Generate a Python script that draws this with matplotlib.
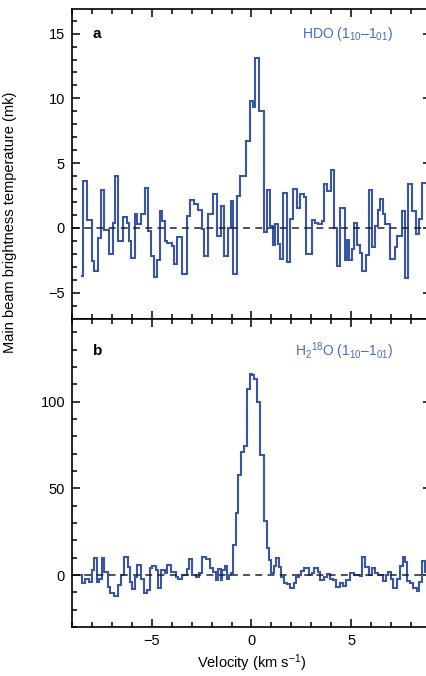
import numpy as np
import matplotlib
matplotlib.use("Agg")
from matplotlib import pyplot as plt
from matplotlib.ticker import MultipleLocator

plt.rcParams['font.family'] = ['Liberation Sans', 'DejaVu Sans']
plt.rcParams['mathtext.fontset'] = 'custom'
plt.rcParams['mathtext.rm'] = 'Liberation Sans'
plt.rcParams['mathtext.default'] = 'regular'

# panel a: HDO (1_10-1_01), channel edges (km/s) and Tmb (mK)
hdo_edges = [-8.55, -8.433, -8.25, -8.017, -7.883, -7.683, -7.55, -7.383, -7.133, -6.967,
             -6.833, -6.683, -6.433, -6.267, -6.133, -6.017, -5.85, -5.717, -5.55, -5.35,
             -5.183, -5.05, -4.883, -4.717, -4.6, -4.467, -4.35, -4.217, -4.0, -3.883,
             -3.717, -3.467, -3.217, -3.083, -2.883, -2.683, -2.467, -2.383, -2.183, -1.917,
             -1.75, -1.55, -1.383, -1.183, -1.05, -0.917, -0.75, -0.583, -0.3, -0.083,
             0.083, 0.2, 0.367, 0.65, 0.783, 0.95, 1.067, 1.2, 1.333, 1.45,
             1.583, 1.783, 1.917, 2.067, 2.283, 2.45, 2.617, 2.75, 3.033, 3.2,
             3.317, 3.533, 3.617, 3.783, 3.983, 4.15, 4.283, 4.45, 4.7, 4.783,
             4.867, 5.033, 5.117, 5.283, 5.45, 5.533, 5.75, 5.867, 6.033, 6.2,
             6.367, 6.45, 6.583, 6.7, 6.95, 7.2, 7.317, 7.533, 7.7, 7.867,
             8.033, 8.25, 8.417, 8.533, 8.95]
hdo_tmb = [-3.7, 3.6, 0.6, -2.55, -3.3, -0.8, 2.9, -0.2, -2.0, 0.35,
           4.0, -1.05, 0.85, 0.4, -1.0, -2.35, 1.1, 0.3, 1.05, 3.1,
           -0.25, -2.2, -3.8, -2.5, 1.3, 0.5, -1.0, -1.15, -1.4, -2.8,
           -0.7, -3.6, 0.95, 2.15, 1.85, 1.4, -0.1, -2.15, 1.05, 2.6,
           -0.6, 1.7, -2.15, 0.0, 2.1, -3.6, 2.45, 4.0, 6.7, 9.8,
           9.3, 13.1, 9.0, -0.3, 2.9, 0.15, -1.3, 0.3, -1.25, -2.4,
           2.7, -2.6, 0.7, 3.0, 1.5, 2.6, 2.35, -2.0, 0.6, 0.4,
           0.3, 0.55, 3.35, 2.85, 4.45, 0.0, -2.95, 1.5, -2.5, -0.9,
           -2.5, -1.65, 0.4, -1.3, -1.95, -3.35, -2.1, 2.9, -1.5, 0.15,
           1.4, 2.2, 1.05, 0.3, -2.4, -1.5, -0.6, 1.3, -3.85, 3.4,
           1.3, -0.5, 0.65, 3.5]

# panel b: H2-18O (1_10-1_01)
h218o_edges = [-8.633, -8.517, -8.35, -8.133, -8.017, -7.883, -7.75, -7.633, -7.517, -7.383,
               -7.217, -7.083, -6.883, -6.717, -6.55, -6.417, -6.217, -6.083, -5.967, -5.85,
               -5.717, -5.55, -5.383, -5.25, -5.083, -4.967, -4.8, -4.683, -4.55, -4.35,
               -4.217, -4.05, -3.8, -3.683, -3.467, -3.25, -3.133, -2.967, -2.8, -2.633,
               -2.467, -2.3, -2.083, -1.917, -1.8, -1.683, -1.55, -1.467, -1.35, -1.217,
               -1.133, -1.017, -0.917, -0.8, -0.683, -0.55, -0.383, -0.217, -0.083, 0.033,
               0.15, 0.283, 0.417, 0.617, 0.783, 0.867, 0.983, 1.117, 1.25, 1.367,
               1.483, 1.617, 1.783, 1.95, 2.117, 2.25, 2.367, 2.483, 2.617, 2.867,
               3.033, 3.15, 3.317, 3.45, 3.617, 3.783, 3.917, 4.083, 4.25, 4.417,
               4.583, 4.75, 4.95, 5.117, 5.417, 5.533, 5.7, 5.867, 6.033, 6.2,
               6.367, 6.617, 6.75, 6.867, 6.983, 7.117, 7.283, 7.45, 7.583, 7.7,
               7.817, 7.95, 8.083, 8.283, 8.417, 8.533, 8.7, 8.95]
h218o_tmb = [0, -4.8, -2.3, -3.9, 2.9, 9.6, -3.9, -2.3, 9.6, 1.9,
             -6.8, -10.6, -12.2, -5.8, 0, 10.6, 4.8, -3.9, -8.3, -1.0,
             5.8, -2.3, -10.2, -8.7, 3.9, 5.2, 2.9, -7.7, 2.9, 1.0,
             5.8, 1.9, -1.0, -2.3, 0, 3.3, 9.0, 0, -1.4, 1.4,
             10.2, 9.0, 3.9, 1.9, -2.9, 3.3, -2.9, 2.9, 5.2, -2.3,
             0, 1.0, 17.4, 35.7, 57.9, 70.8, 74.3, 107.1, 115.8, 115.2,
             112.9, 99.8, 69.5, 30.9, 15.4, 8.7, 1.0, 5.2, 9.6, 4.8,
             -1.0, -4.8, -5.2, -7.7, -4.8, -1.0, 0, 2.5, 3.9, 0,
             1.0, 3.9, 1.9, -2.9, -1.4, 0.6, -2.3, -2.7, -6.8, -4.8,
             -6.4, -2.9, 1.0, 0, -0.6, 10.2, 4.8, 0, 3.9, 1.0,
             0, -3.3, 0, 1.9, -2.3, -7.7, -2.3, 5.2, 10.2, 7.7,
             -3.3, -4.4, -7.7, -9.2, -3.9, 8.0, 1.9]

line_col = '#3B55A5'
text_col = '#4A6BC0'

fig = plt.figure(figsize=(4.27, 6.76), dpi=100)
ax_a = fig.add_axes([72/427, 1-318.5/676, 359/427, 309.5/676])
ax_b = fig.add_axes([72/427, 1-627/676, 359/427, 308.5/676])

for ax, edges, vals in [(ax_a, hdo_edges, hdo_tmb), (ax_b, h218o_edges, h218o_tmb)]:
    ax.stairs(vals, edges, baseline=None, color=line_col, lw=1.5)
    ax.axhline(0, color='#222222', lw=1.1, ls=(0, (4.5, 3.5)), zorder=1)
    ax.set_xlim(-9, 9)
    ax.xaxis.set_major_locator(MultipleLocator(5))
    ax.xaxis.set_minor_locator(MultipleLocator(1))
    ax.tick_params(which='both', direction='in', top=True, right=True, width=1.1,
                   labelsize=10.5, pad=5)
    ax.tick_params(which='major', length=6)
    ax.tick_params(which='minor', length=3.5)
    for sp in ax.spines.values():
        sp.set_linewidth(1.2)

ax_a.set_ylim(-7, 16.9)
ax_a.yaxis.set_major_locator(MultipleLocator(5))
ax_a.yaxis.set_minor_locator(MultipleLocator(1))
ax_a.tick_params(labelbottom=False)

ax_b.set_ylim(-30, 148)
ax_b.yaxis.set_major_locator(MultipleLocator(50))
ax_b.yaxis.set_minor_locator(MultipleLocator(10))
ax_b.set_xlabel(r'Velocity (km s$^{-1}$)', fontsize=10.5, labelpad=3)

ax_a.text(0.058, 0.92, 'a', transform=ax_a.transAxes, fontsize=11, fontweight='bold',
          va='center', ha='left')
ax_a.text(0.895, 0.92, r'HDO (1$_{10}$–1$_{01}$)', transform=ax_a.transAxes,
          fontsize=10, color=text_col, va='center', ha='right')
ax_b.text(0.058, 0.895, 'b', transform=ax_b.transAxes, fontsize=11, fontweight='bold',
          va='center', ha='left')
ax_b.text(0.895, 0.895, r'H$_2$$^{18}$O (1$_{10}$–1$_{01}$)', transform=ax_b.transAxes,
          fontsize=10, color=text_col, va='center', ha='right')

fig.text(0.024, 1-222/676, 'Main beam brightness temperature (mk)', rotation=90,
         fontsize=10.5, va='center', ha='center')

plt.savefig('out.png', format='png', dpi=100)
